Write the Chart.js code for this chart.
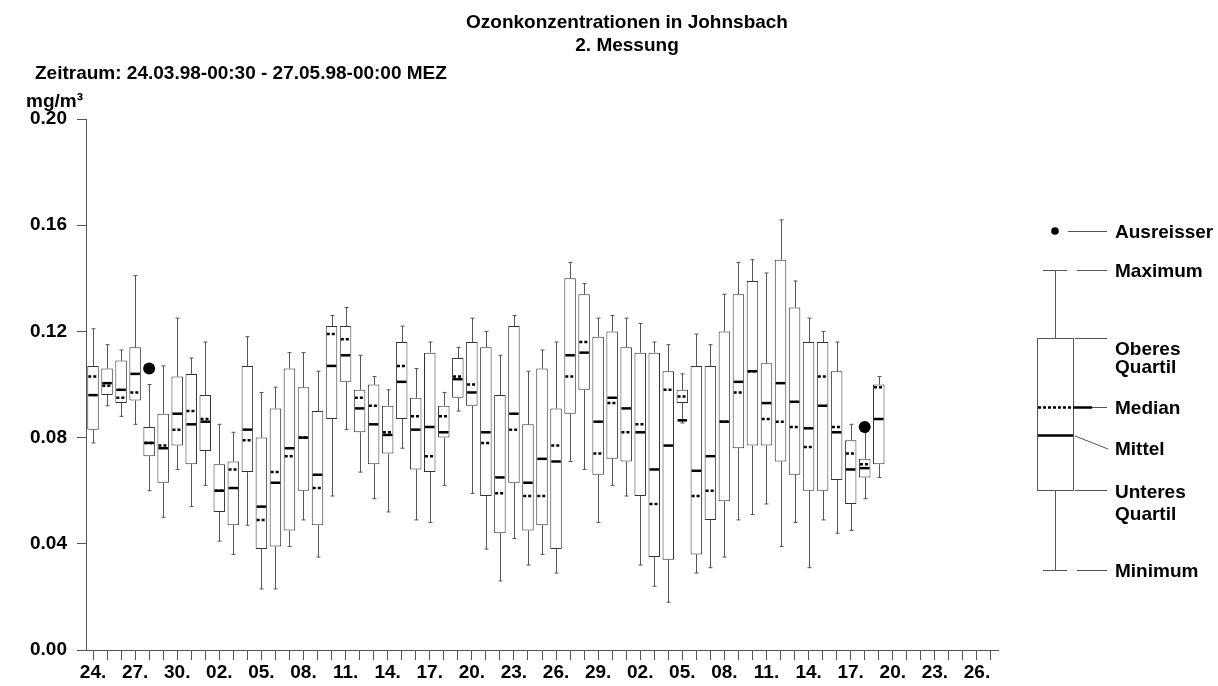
<!DOCTYPE html>
<html>
<head>
<meta charset="utf-8">
<script src="https://cdn.jsdelivr.net/npm/chart.js@4.4.1/dist/chart.umd.min.js"></script>
<style>
  body { margin: 0; background: #fff; }
  #wrap { width: 1218px; height: 686px; }
</style>
</head>
<body>
<div id="wrap"><canvas id="ozon" width="1218" height="686"></canvas></div>
<script>
// Tage 24.03. - 27.05.1998
const days = ('24. 25. 26. 27. 28. 29. 30. 31. ' +
  '01. 02. 03. 04. 05. 06. 07. 08. 09. 10. 11. 12. 13. 14. 15. 16. 17. 18. 19. 20. 21. 22. 23. 24. 25. 26. 27. 28. 29. 30. ' +
  '01. 02. 03. 04. 05. 06. 07. 08. 09. 10. 11. 12. 13. 14. 15. 16. 17. 18. 19. 20. 21. 22. 23. 24. 25. 26. 27.').split(' ');

// Tageswerte in mg/m³
const mins    = [0.078,0.092,0.088,0.085,0.060,0.050,0.068,0.054,0.062,0.041, 0.036,0.047,0.023,0.023,0.039,0.049,0.035,0.058,0.083,0.067, 0.057,0.052,0.076,0.049,0.048,0.062,0.090,0.059,0.038,0.026, 0.042,0.032,0.036,0.029,0.071,0.068,0.048,0.062,0.058,0.032, 0.024,0.018,0.0855,0.029,0.031,0.035,0.049,0.051,0.055,0.039, 0.048,0.031,0.049,0.044,0.045,0.057,0.065];
const q1s     = [0.083,0.096,0.093,0.094,0.073,0.063,0.077,0.070,0.075,0.052, 0.047,0.067,0.038,0.039,0.045,0.060,0.047,0.087,0.101,0.082, 0.070,0.074,0.087,0.068,0.067,0.080,0.095,0.092,0.058,0.044, 0.063,0.045,0.047,0.038,0.089,0.098,0.066,0.072,0.071,0.058, 0.035,0.034,0.093,0.036,0.049,0.056,0.076,0.077,0.077,0.071, 0.066,0.060,0.060,0.064,0.055,0.065,0.070];
const medians = [0.103,0.0995,0.095,0.097,0.078,0.077,0.083,0.090,0.087,0.060, 0.068,0.079,0.049,0.067,0.073,0.080,0.061,0.119,0.117,0.095, 0.092,0.082,0.107,0.088,0.073,0.088,0.103,0.100,0.078,0.059, 0.083,0.058,0.058,0.077,0.103,0.116,0.074,0.093,0.082,0.085, 0.055,0.098,0.0955,0.058,0.060,0.086,0.097,0.105,0.087,0.086, 0.084,0.0765,0.103,0.084,0.074,0.070,0.099];
const means   = [0.096,0.1005,0.098,0.104,0.078,0.076,0.089,0.085,0.086,0.060, 0.061,0.083,0.054,0.063,0.076,0.080,0.066,0.107,0.111,0.091, 0.085,0.081,0.101,0.083,0.084,0.082,0.102,0.097,0.082,0.065, 0.089,0.063,0.072,0.071,0.111,0.112,0.086,0.095,0.091,0.082, 0.068,0.077,0.0865,0.0675,0.073,0.086,0.101,0.105,0.093,0.1005, 0.0935,0.0835,0.092,0.082,0.068,0.0685,0.087];
const q3s     = [0.107,0.106,0.109,0.114,0.084,0.089,0.103,0.104,0.096,0.070, 0.071,0.107,0.080,0.091,0.106,0.099,0.090,0.122,0.122,0.098, 0.100,0.092,0.116,0.095,0.112,0.092,0.110,0.116,0.114,0.096, 0.122,0.085,0.106,0.091,0.140,0.134,0.118,0.120,0.114,0.112, 0.112,0.105,0.098,0.107,0.107,0.120,0.134,0.139,0.108,0.147, 0.129,0.116,0.116,0.105,0.079,0.072,0.100];
const maxs    = [0.121,0.115,0.113,0.141,0.100,0.107,0.125,0.110,0.116,0.085, 0.082,0.118,0.097,0.099,0.112,0.112,0.105,0.126,0.129,0.111, 0.103,0.098,0.122,0.106,0.116,0.097,0.114,0.125,0.120,0.111, 0.126,0.105,0.113,0.116,0.146,0.138,0.125,0.126,0.125,0.123, 0.116,0.115,0.104,0.119,0.115,0.134,0.146,0.147,0.142,0.162, 0.139,0.125,0.120,0.116,0.085,0.082,0.103];

// Ausreisser: Tag (Index) und Wert
const outlierDays   = [4, 55];
const outlierValues = [0.106, 0.084];

const yTicks = [0, 0.04, 0.08, 0.12, 0.16, 0.20];

const FONT = '"Liberation Sans", Arial, Helvetica, sans-serif';
const AXIS_COL = '#555';

// Ausreisser auf die Tagesliste legen (null = kein Punkt)
const outlierSeries = days.map(function (d, i) {
  const k = outlierDays.indexOf(i);
  return k >= 0 ? outlierValues[k] : null;
});

// Whisker unter den Boxen
const whiskers = {
  id: 'whiskers',
  beforeDatasetsDraw(chart) {
    const ctx = chart.ctx, y = chart.scales.y;
    const bars = chart.getDatasetMeta(0).data;
    ctx.save();
    ctx.strokeStyle = AXIS_COL;
    ctx.lineWidth = 1;
    bars.forEach(function (bar, i) {
      if (mins[i] == null) return;
      const cx = Math.round(bar.x) + 0.5;
      const yMin = y.getPixelForValue(mins[i]), yMax = y.getPixelForValue(maxs[i]);
      const yQ1 = y.getPixelForValue(q1s[i]), yQ3 = y.getPixelForValue(q3s[i]);
      ctx.beginPath();
      ctx.moveTo(cx, yMax); ctx.lineTo(cx, yQ3);
      ctx.moveTo(cx, yQ1); ctx.lineTo(cx, yMin);
      ctx.moveTo(cx - 2, yMax); ctx.lineTo(cx + 2, yMax);
      ctx.moveTo(cx - 2, yMin); ctx.lineTo(cx + 2, yMin);
      ctx.stroke();
    });
    ctx.restore();
  },
  // Median (punktiert) und Mittel (durchgezogen) über den Boxen
  afterDatasetsDraw(chart) {
    const ctx = chart.ctx, y = chart.scales.y;
    const bars = chart.getDatasetMeta(0).data;
    ctx.save();
    ctx.strokeStyle = '#000';
    ctx.lineWidth = 2.5;
    bars.forEach(function (bar, i) {
      const l = bar.x - bar.width / 2 + 1, r = bar.x + bar.width / 2 - 1;
      const ym = y.getPixelForValue(medians[i]);
      ctx.setLineDash([3, 2]);
      ctx.beginPath(); ctx.moveTo(l, ym); ctx.lineTo(r, ym); ctx.stroke();
      const ya = y.getPixelForValue(means[i]);
      ctx.setLineDash([]);
      ctx.beginPath(); ctx.moveTo(l, ya); ctx.lineTo(r, ya); ctx.stroke();
    });
    ctx.restore();
  }
};

// Überschriften, Einheit und Erklärung rechts
const beschriftung = {
  id: 'beschriftung',
  afterDraw(chart) {
    const ctx = chart.ctx;
    ctx.save();
    ctx.fillStyle = '#000';
    ctx.font = 'bold 19px ' + FONT;
    ctx.textBaseline = 'alphabetic';
    ctx.textAlign = 'center';
    ctx.fillText('Ozonkonzentrationen in Johnsbach', 627, 28);
    ctx.fillText('2. Messung', 627, 51);
    ctx.textAlign = 'left';
    ctx.fillText('Zeitraum: 24.03.98-00:30 - 27.05.98-00:00 MEZ', 35, 79);
    ctx.fillText('mg/m³', 26, 107);

    // Legende
    ctx.strokeStyle = AXIS_COL;
    ctx.lineWidth = 1;
    const line = function (x1, y1, x2, y2) {
      ctx.beginPath(); ctx.moveTo(x1, y1); ctx.lineTo(x2, y2); ctx.stroke();
    };
    ctx.beginPath(); ctx.arc(1055, 231, 3.8, 0, Math.PI * 2); ctx.fill();
    line(1068, 231.5, 1107, 231.5);
    line(1043, 270.5, 1067, 270.5); line(1077, 270.5, 1107, 270.5);
    line(1055.5, 270, 1055.5, 338); line(1055.5, 490, 1055.5, 570);
    ctx.strokeRect(1037.5, 338.5, 36, 152);
    line(1075, 338.5, 1107, 338.5);
    line(1075, 490.5, 1107, 490.5);
    line(1043, 570.5, 1067, 570.5); line(1077, 570.5, 1107, 570.5);
    line(1092, 407.5, 1107, 407.5);
    line(1075, 436, 1108, 449);
    ctx.strokeStyle = '#000';
    ctx.lineWidth = 2.5;
    ctx.setLineDash([3, 2]);
    line(1038, 407.5, 1073, 407.5);
    ctx.setLineDash([]);
    line(1073, 407.5, 1092, 407.5);
    line(1038, 435.5, 1073, 435.5);

    ctx.fillText('Ausreisser', 1115, 238);
    ctx.fillText('Maximum', 1115, 277);
    ctx.fillText('Oberes', 1115, 355);
    ctx.fillText('Quartil', 1115, 373);
    ctx.fillText('Median', 1115, 414);
    ctx.fillText('Mittel', 1115, 455);
    ctx.fillText('Unteres', 1115, 498);
    ctx.fillText('Quartil', 1115, 520);
    ctx.fillText('Minimum', 1115, 577);
    ctx.restore();
  }
};

const ctx = document.getElementById('ozon').getContext('2d');
const chart = new Chart(ctx, {
  type: 'bar',
  data: {
    labels: days,
    datasets: [{
      label: 'Quartile',
      data: q1s.map(function (v, i) { return [v, q3s[i]]; }),
      backgroundColor: '#fff',
      borderColor: '#333',
      borderWidth: 1,
      borderSkipped: false,
      barPercentage: 0.82,
      categoryPercentage: 1.0
    }, {
      type: 'line',
      label: 'Ausreisser',
      data: outlierSeries,
      showLine: false,
      backgroundColor: '#000',
      borderColor: '#000',
      borderWidth: 0,
      pointRadius: 6
    }]
  },
  options: {
    responsive: false,
    animation: false,
    events: [],
    layout: { padding: { top: 119, right: 220, bottom: 0, left: 0 } },
    plugins: { legend: { display: false }, tooltip: { enabled: false }, title: { display: false } },
    scales: {
      x: {
        type: 'category',
        offset: true,
        grid: { offset: false, drawOnChartArea: false, drawTicks: true, tickLength: 10, color: AXIS_COL },
        border: { display: true, color: AXIS_COL, width: 1 },
        ticks: {
          autoSkip: false,
          maxRotation: 0,
          padding: 1,
          color: '#000',
          font: { family: FONT, size: 19, weight: 'bold' },
          callback: function (val, i) { return i % 3 === 0 ? days[i] : ''; }
        },
        afterFit: function (scale) { scale.height = 36; }
      },
      y: {
        min: 0,
        max: 0.2,
        afterBuildTicks: function (scale) { scale.ticks = yTicks.map(function (v) { return { value: v }; }); },
        grid: { drawOnChartArea: false, drawTicks: true, tickLength: 9, color: AXIS_COL },
        border: { display: true, color: AXIS_COL, width: 1 },
        ticks: {
          padding: 10,
          color: '#000',
          font: { family: FONT, size: 19, weight: 'bold' },
          callback: function (v) { return v.toFixed(2); }
        },
        afterFit: function (scale) { scale.width = 86; }
      }
    }
  },
  plugins: [whiskers, beschriftung]
});
</script>
</body>
</html>
